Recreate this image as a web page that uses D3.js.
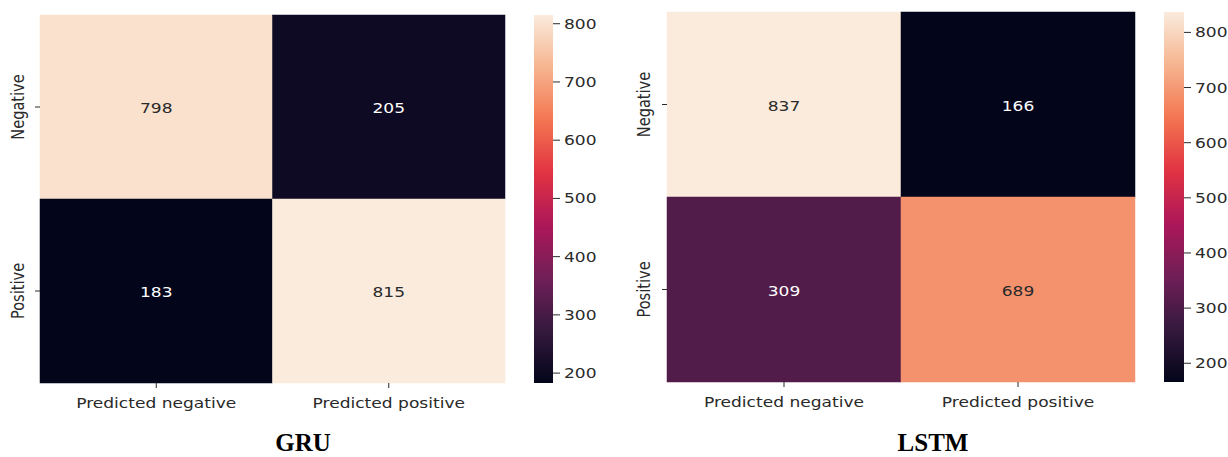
<!DOCTYPE html>
<html><head><meta charset="utf-8">
<script src="https://cdn.jsdelivr.net/npm/d3@7"></script>
<style>body{margin:0;background:#fff}svg{display:block}</style>
</head><body>
<svg id="c" width="1228" height="457"></svg>
<script>
const xLabels = ["Predicted negative", "Predicted positive"];
const yLabels = ["Negative", "Positive"];
const gruValues = [[798, 205], [183, 815]];
const lstmValues = [[837, 166], [309, 689]];
const colorbarTicks = [200, 300, 400, 500, 600, 700, 800];
const titles = ["GRU", "LSTM"];
// seaborn "rocket" colormap stops
const rocketStops = ["#03051a", "#35193e", "#701f57", "#ad1759", "#e13342", "#f37651", "#f6b48f", "#faebdd"];

const rocket = d3.scaleLinear()
  .domain(d3.range(rocketStops.length).map(i => i / (rocketStops.length - 1)))
  .range(rocketStops).interpolate(d3.interpolateRgb);

const svg = d3.select("#c");
const SX = 1.17, FS = 14.6, TXT = "#2a2a2a";
const font = "'DejaVu Sans', sans-serif";

function stretchedText(g, x, y, str, anchor, rot, color, baseline) {
  return g.append("text")
    .attr("transform", `translate(${x},${y}) scale(${SX},1)` + (rot ? ` rotate(${rot})` : ""))
    .attr("text-anchor", anchor)
    .attr("dominant-baseline", baseline || "auto")
    .attr("font-family", font).attr("font-size", FS)
    .attr("fill", color || TXT).text(str);
}

const panels = [
  {values: gruValues, title: titles[0], x0: 40, x1: 505, y0: 15, y1: 383, cbx: 534, cbw: 19, ylabX: 24, titleX: 303},
  {values: lstmValues, title: titles[1], x0: 667, x1: 1135, y0: 12, y1: 382, cbx: 1164, cbw: 20, ylabX: 650, titleX: 933}
];

panels.forEach((p, pi) => {
  const g = svg.append("g");
  const flat = p.values.flat();
  const vmin = d3.min(flat), vmax = d3.max(flat);
  const norm = d3.scaleLinear().domain([vmin, vmax]).range([0, 1]);
  const x = d3.scaleBand().domain(xLabels).range([p.x0, p.x1]);
  const y = d3.scaleBand().domain(yLabels).range([p.y0, p.y1]);

  const cells = [];
  p.values.forEach((row, ri) => row.forEach((v, ci) => cells.push({r: yLabels[ri], c: xLabels[ci], v})));

  g.selectAll("rect.cell").data(cells).join("rect").attr("class", "cell")
    .attr("x", d => x(d.c)).attr("y", d => y(d.r))
    .attr("width", x.bandwidth()).attr("height", y.bandwidth())
    .attr("fill", d => rocket(norm(d.v)))
    .attr("stroke", d => rocket(norm(d.v))).attr("stroke-width", 0.5);

  cells.forEach(d => {
    const t = norm(d.v);
    stretchedText(g, x(d.c) + x.bandwidth() / 2, y(d.r) + y.bandwidth() / 2 + 1, d.v, "middle", 0,
      t > 0.5 ? TXT : "#ffffff", "central");
  });

  // x ticks
  xLabels.forEach(l => {
    const cx = x(l) + x.bandwidth() / 2;
    g.append("line").attr("x1", cx).attr("x2", cx).attr("y1", p.y1).attr("y2", p.y1 + 5)
      .attr("stroke", TXT).attr("stroke-width", 1);
    stretchedText(g, cx, p.y1 + 25, l, "middle", 0, TXT);
  });
  // y ticks
  yLabels.forEach(l => {
    const cy = y(l) + y.bandwidth() / 2;
    g.append("line").attr("x1", p.x0 - 5).attr("x2", p.x0).attr("y1", cy).attr("y2", cy)
      .attr("stroke", TXT).attr("stroke-width", 1);
    stretchedText(g, p.ylabX, cy, l, "middle", -90, TXT);
  });

  // colorbar
  const gradId = "grad" + pi;
  const grad = svg.append("defs").append("linearGradient").attr("id", gradId)
    .attr("x1", 0).attr("y1", 1).attr("x2", 0).attr("y2", 0);
  d3.range(0, 1.0001, 0.02).forEach(t => grad.append("stop").attr("offset", t).attr("stop-color", rocket(t)));
  g.append("rect").attr("x", p.cbx).attr("y", p.y0).attr("width", p.cbw).attr("height", p.y1 - p.y0)
    .attr("fill", `url(#${gradId})`);
  const cy = d3.scaleLinear().domain([vmin, vmax]).range([p.y1, p.y0]);
  colorbarTicks.forEach(tv => {
    const yy = cy(tv);
    g.append("line").attr("x1", p.cbx + p.cbw).attr("x2", p.cbx + p.cbw + 7).attr("y1", yy).attr("y2", yy)
      .attr("stroke", TXT).attr("stroke-width", 1);
    stretchedText(g, p.cbx + p.cbw + 11, yy, tv, "start", 0, TXT, "central");
  });

  // title
  svg.append("text").attr("x", p.titleX).attr("y", 451).attr("text-anchor", "middle")
    .attr("font-family", "'Liberation Serif', 'Times New Roman', serif")
    .attr("font-weight", "bold").attr("font-size", 25).attr("fill", "#000").text(p.title);
});
</script>
</body></html>
